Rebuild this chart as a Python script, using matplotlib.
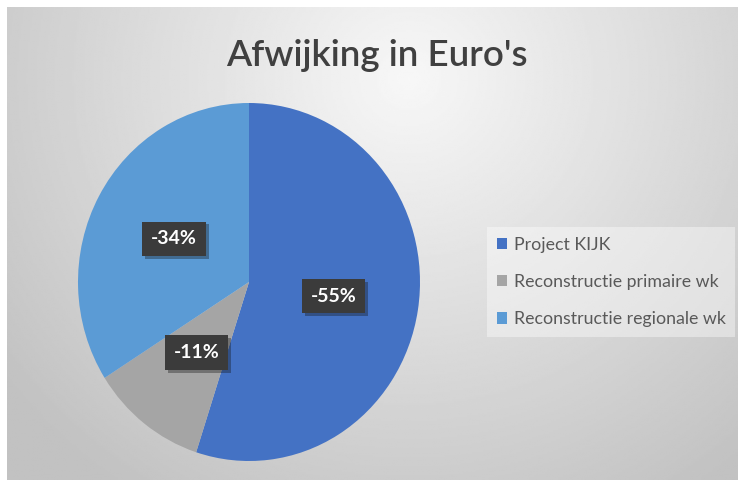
import matplotlib.pyplot as plt
import matplotlib.patheffects as pe
import numpy as np

# data
categories = ["Project KIJK", "Reconstructie primaire wk", "Reconstructie regionale wk"]
afwijking = [-55, -11, -34]  # percent
colors = ["#4472C4", "#A5A5A5", "#5B9BD5"]
title = "Afwijking in Euro's"

plt.rcParams['font.family'] = ['Lato', 'DejaVu Sans']

fig = plt.figure(figsize=(7.38, 4.8), dpi=100)
fig.patch.set_facecolor('white')

# background with radial gradient (chart area)
bg = fig.add_axes([7/738, 0, 731/738, 473/480])
nx, ny = 400, 260
xx, yy = np.meshgrid(np.linspace(0, 1, nx), np.linspace(0, 1, ny))
d = np.sqrt(((xx - 0.55) * 1.5) ** 2 + ((yy - 0.85) * 1.0) ** 2)
d = np.clip(d / 1.05, 0, 1)
shade = 0.97 - 0.21 * d
bg.imshow(shade, cmap='gray', vmin=0, vmax=1, extent=[0, 1, 0, 1],
          origin='lower', aspect='auto', interpolation='bilinear')
bg.set_axis_off()

# pie
ax = fig.add_axes([78/738, 19/480, 342/738, 358/480])
vals = [abs(v) for v in afwijking]
wedges, texts, autotexts = ax.pie(
    vals, colors=colors, startangle=90, counterclock=False,
    autopct=lambda p: "-%.0f%%" % p, pctdistance=0.5,
    wedgeprops=dict(linewidth=0),
    textprops=dict(color='white', fontsize=14, fontweight='bold'))
for t in autotexts:
    t.set_bbox(dict(boxstyle='square,pad=0.45', facecolor='#3b3b3b', edgecolor='none'))
    t.get_bbox_patch().set_path_effects([
        pe.SimplePatchShadow(offset=(2, -2), alpha=0.35), pe.Normal()])
ax.set_aspect('auto')
ax.set_xlim(-1, 1)
ax.set_ylim(-1, 1)
ax.set_axis_off()

fig.text(377/738, 1 - 55/480, title, ha='center', va='center',
         fontsize=26.5, color='#404040', fontweight='semibold')

leg = fig.legend(wedges, categories, loc='center left',
                 bbox_to_anchor=(487/738, 1 - 282/480),
                 fontsize=12.8, labelspacing=1.2, handlelength=0.6, handleheight=0.6,
                 handletextpad=0.35, borderpad=0.55, borderaxespad=0,
                 frameon=True, fancybox=False)
leg.get_frame().set_facecolor('white')
leg.get_frame().set_alpha(0.4)
leg.get_frame().set_edgecolor('none')
for t in leg.get_texts():
    t.set_color('#595959')

fig.savefig('out.png', dpi=100)
